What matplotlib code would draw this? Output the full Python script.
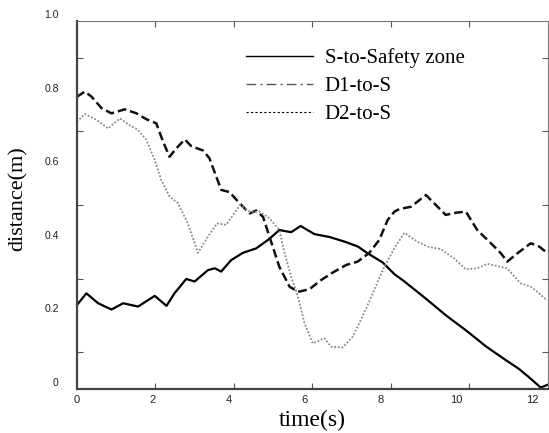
import matplotlib
matplotlib.use("Agg")
import matplotlib.pyplot as plt
from matplotlib.lines import Line2D
from matplotlib.transforms import ScaledTranslation

# values
t_s = [0.0, 0.25, 0.56, 0.91, 1.22, 1.61, 2.05, 2.36, 2.57, 2.88, 3.10, 3.45, 3.63, 3.80,
       4.06, 4.37, 4.72, 5.07, 5.33, 5.64, 5.89, 6.25, 6.65, 7.09, 7.40, 7.65, 8.05, 8.36,
       8.60, 9.17, 9.73, 10.26, 10.78, 11.27, 11.62, 11.88, 12.21, 12.38]
d_s = [0.228, 0.26, 0.233, 0.216, 0.233, 0.224, 0.253, 0.226, 0.26, 0.299, 0.292, 0.323, 0.328, 0.319,
       0.35, 0.37, 0.382, 0.408, 0.432, 0.426, 0.443, 0.421, 0.413, 0.399, 0.387, 0.369, 0.344, 0.312,
       0.294, 0.247, 0.199, 0.158, 0.115, 0.08, 0.056, 0.034, 0.004, 0.011]

t_d1 = [0.0, 0.21, 0.39, 0.65, 0.91, 1.26, 1.57, 1.83, 2.09, 2.27, 2.44, 2.62, 2.84, 3.01,
        3.32, 3.49, 3.67, 3.80, 4.02, 4.28, 4.55, 4.72, 4.90, 5.07, 5.33, 5.60, 5.82, 6.12,
        6.43, 6.73, 7.09, 7.39, 7.70, 7.96, 8.18, 8.36, 8.49, 8.79, 9.19, 9.45, 9.71, 9.98,
        10.24, 10.54, 10.90, 11.16, 11.33, 11.60, 11.95, 12.17, 12.38]
d_d1 = [0.794, 0.808, 0.794, 0.763, 0.749, 0.76, 0.749, 0.733, 0.722, 0.672, 0.631, 0.654, 0.678, 0.66,
        0.648, 0.627, 0.577, 0.541, 0.535, 0.505, 0.477, 0.485, 0.468, 0.414, 0.332, 0.278, 0.264, 0.271,
        0.296, 0.316, 0.337, 0.346, 0.37, 0.405, 0.459, 0.482, 0.489, 0.495, 0.527, 0.5, 0.473, 0.479,
        0.482, 0.432, 0.396, 0.369, 0.346, 0.369, 0.396, 0.387, 0.37]

t_d2 = [0.0, 0.21, 0.52, 0.82, 1.13, 1.39, 1.61, 1.83, 2.05, 2.22, 2.44, 2.66, 2.92, 3.19,
        3.45, 3.69, 3.93, 4.11, 4.30, 4.55, 4.81, 5.07, 5.33, 5.47, 5.64, 5.82, 5.99, 6.21,
        6.52, 6.69, 7.00, 7.26, 7.52, 7.79, 8.05, 8.36, 8.62, 8.97, 9.23, 9.58, 9.93, 10.24,
        10.54, 10.81, 11.07, 11.33, 11.68, 11.95, 12.17, 12.38]
d_d2 = [0.726, 0.747, 0.731, 0.708, 0.735, 0.717, 0.704, 0.677, 0.622, 0.568, 0.523, 0.505, 0.45, 0.37,
        0.414, 0.45, 0.446, 0.473, 0.5, 0.482, 0.482, 0.464, 0.432, 0.369, 0.305, 0.251, 0.179, 0.124,
        0.138, 0.115, 0.113, 0.142, 0.197, 0.26, 0.323, 0.383, 0.424, 0.40, 0.387, 0.38, 0.355, 0.325,
        0.328, 0.34, 0.334, 0.328, 0.287, 0.278, 0.26, 0.24]

labels = ["S-to-Safety zone", "D1-to-S", "D2-to-S"]
x_ticks = [0, 2, 4, 6, 8, 10, 12]
y_ticks = [0, 0.2, 0.4, 0.6, 0.8, 1.0]
y_tick_labels = ["0", "0.2", "0.4", "0.6", "0.8", "1.0"]

serif = "Liberation Serif"
sans = "Liberation Sans"

fig = plt.figure(figsize=(5.49, 4.33), dpi=100)
ax = fig.add_axes([0.140, 0.1016, 0.858, 0.85])

ax.plot(t_s, d_s, color="black", lw=1.6)
ax.plot(t_d1, d_d1, color="#111111", lw=1.8, linestyle=(0, (3.5, 1.6)))
ax.plot(t_d2, d_d2, color="#8a8a8a", lw=1.3, linestyle=(0, (1, 1)))

ax.set_xlim(0, 12.4)
ax.set_ylim(0, 1.0)

# labels sit on major ticks, marks only on the minor ones
ax.set_xticks(x_ticks)
ax.set_xticklabels([str(v) for v in x_ticks], fontfamily=sans, fontsize=8, color="#222222")
ax.set_yticks(y_ticks)
ax.set_yticklabels(y_tick_labels, fontfamily=sans, fontsize=7.5, color="#222222")
ax.set_xticks([12.4 / 6 * k for k in range(1, 6)], minor=True)
ax.set_yticks([0.1 * k for k in range(1, 10)], minor=True)
ax.tick_params(which="major", length=0)
ax.tick_params(axis="x", which="major", pad=4)
ax.tick_params(axis="y", which="major", pad=13)
ax.tick_params(which="minor", direction="in", length=4, width=0.8, color="#555555",
               top=True, right=True)
for lab in ax.get_yticklabels():
    lab.set_transform(lab.get_transform() + ScaledTranslation(0, 7 / 100, fig.dpi_scale_trans))

for side in ["left", "bottom"]:
    ax.spines[side].set_linewidth(1.6)
    ax.spines[side].set_color("#444444")
for side in ["top", "right"]:
    ax.spines[side].set_linewidth(0.8)
    ax.spines[side].set_color("#777777")

ax.set_xlabel("time(s)", fontfamily=serif, fontsize=17, labelpad=4)
ax.set_ylabel("distance(m)", fontfamily=serif, fontsize=16)
ax.yaxis.set_label_coords(-0.104, 0.516)

handles = [
    Line2D([], [], color="black", lw=1.0),
    Line2D([], [], color="#555555", lw=1.0, linestyle=(0, (7, 3, 1.5, 3))),
    Line2D([], [], color="black", lw=0.8, linestyle=(0, (2, 2))),
]
ax.legend(handles, labels, loc="upper left", bbox_to_anchor=(0.36, 0.926),
          frameon=False, borderpad=0, borderaxespad=0, handlelength=3.2,
          handletextpad=0.55, labelspacing=0.4, prop={"family": serif, "size": 15})

fig.savefig("out.png", dpi=100)
